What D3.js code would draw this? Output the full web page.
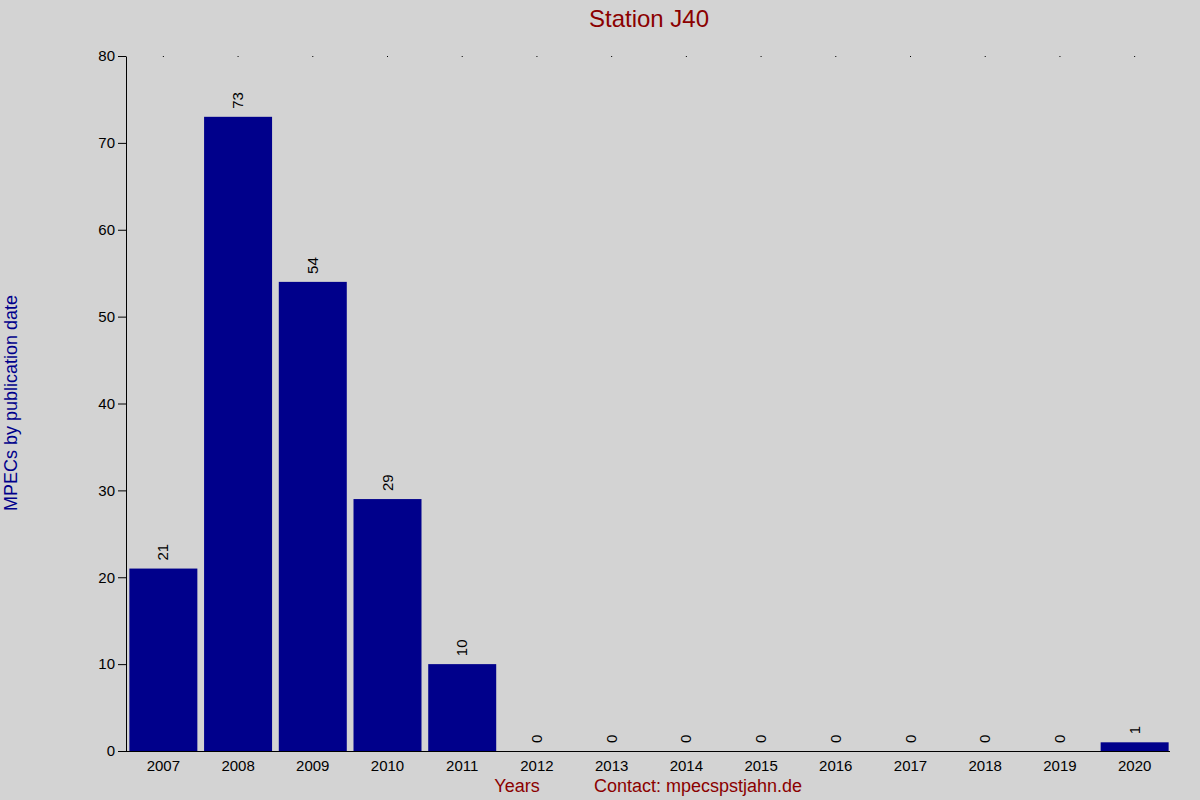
<!DOCTYPE html>
<html><head><meta charset="utf-8">
<script src="https://cdn.jsdelivr.net/npm/d3@7"></script>
<style>body{margin:0;background:#d3d3d3}text{font-family:"Liberation Sans",Arial,sans-serif}</style>
</head><body><svg id="c" width="1200" height="800"></svg>
<script>
var years = ['2007','2008','2009','2010','2011','2012','2013','2014','2015','2016','2017','2018','2019','2020'];
var counts = [21, 73, 54, 29, 10, 0, 0, 0, 0, 0, 0, 0, 0, 1];
var yTicks = [0, 10, 20, 30, 40, 50, 60, 70, 80];

var svg = d3.select('#c');
svg.append('rect').attr('width', 1200).attr('height', 800).attr('fill', '#d3d3d3');

var x = d3.scaleBand().domain(years).range([126, 1172]).paddingInner(0.09).paddingOuter(0.045);
var y = d3.scaleLinear().domain([0, 80]).range([751, 56]);

// bars
svg.selectAll('rect.bar').data(counts).enter().append('rect')
    .attr('class', 'bar')
    .attr('x', function(d, i) { return x(years[i]); })
    .attr('y', function(d) { return y(d); })
    .attr('width', x.bandwidth())
    .attr('height', function(d) { return y(0) - y(d); })
    .attr('fill', '#00008b');

// value labels, rotated
svg.selectAll('text.val').data(counts).enter().append('text')
    .attr('class', 'val')
    .attr('transform', function(d, i) {
        return 'translate(' + (x(years[i]) + x.bandwidth() / 2 + 5) + ',' + (y(d) - 8) + ') rotate(-90)';
    })
    .attr('font-size', 15).attr('fill', '#000')
    .text(function(d) { return d; });

// dots at top
svg.selectAll('rect.dot').data(years).enter().append('rect')
    .attr('class', 'dot')
    .attr('x', function(d) { return x(d) + x.bandwidth() / 2 - 0.5; })
    .attr('y', 56).attr('width', 1).attr('height', 1).attr('fill', '#000');

// y axis
var ya = svg.append('g').attr('transform', 'translate(126,0)')
    .call(d3.axisLeft(y).tickValues(yTicks).tickSize(8).tickSizeOuter(0));
ya.select('.domain').attr('stroke', '#000');
ya.selectAll('text').attr('font-size', 15).attr('fill', '#000').attr('font-family', '"Liberation Sans",Arial,sans-serif');

// x axis
svg.append('line').attr('x1', 118).attr('x2', 1170).attr('y1', 751.5).attr('y2', 751.5).attr('stroke', '#000');
svg.selectAll('text.xl').data(years).enter().append('text')
    .attr('class', 'xl')
    .attr('x', function(d) { return x(d) + x.bandwidth() / 2; })
    .attr('y', 771).attr('text-anchor', 'middle').attr('font-size', 15).attr('fill', '#000')
    .text(function(d) { return d; });

svg.append('text').attr('x', 649).attr('y', 27).attr('text-anchor', 'middle')
    .attr('font-size', 24).attr('fill', '#8b0000').text('Station J40');
svg.append('text').attr('x', 517).attr('y', 792).attr('text-anchor', 'middle')
    .attr('font-size', 18).attr('fill', '#8b0000').text('Years');
svg.append('text').attr('x', 698).attr('y', 792).attr('text-anchor', 'middle')
    .attr('font-size', 18).attr('fill', '#8b0000').text('Contact: mpecspstjahn.de');
svg.append('text').attr('transform', 'translate(17,403) rotate(-90)').attr('text-anchor', 'middle')
    .attr('font-size', 18).attr('fill', '#00008b').text('MPECs by publication date');
</script></body></html>
